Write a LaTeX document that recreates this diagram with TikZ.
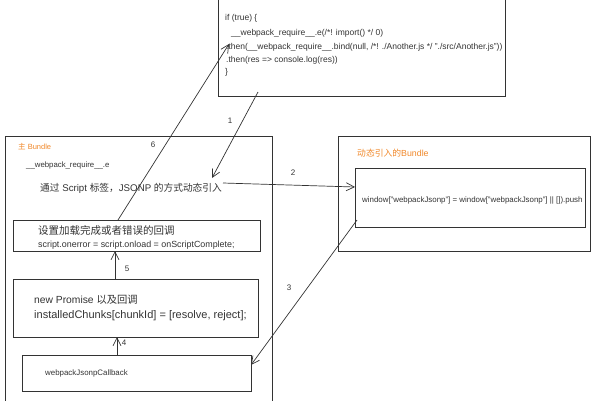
\documentclass[tikz,border=0pt]{standalone}
\usepackage{fontspec}
\setmainfont{Liberation Sans}
\newfontfamily\cjk{Noto Sans CJK SC}
\usetikzlibrary{arrows.meta}
\definecolor{ink}{HTML}{333333}
\definecolor{orangetxt}{HTML}{F0882A}
\tikzset{
  box/.style={draw=ink, line width=0.9pt, anchor=north west, inner sep=0pt},
  lbl/.style={anchor=west, inner sep=0pt, text=ink},
  num/.style={inner sep=0pt, text=ink, font=\fontsize{8}{9}\selectfont},
  arr/.style={draw=ink, line width=0.7pt, -{Straight Barb[length=8pt,width=8pt,line width=0.7pt]}},
}
\begin{document}
\begin{tikzpicture}[x=1pt,y=-1pt]
\useasboundingbox (0,0) rectangle (600,400);
% boxes
\node[box, minimum width=287pt, minimum height=100pt] (top) at (218,-4) {};
\node[box, minimum width=267pt, minimum height=270pt] (main) at (5,136) {};
\node[box, minimum width=247pt, minimum height=31pt] (b1) at (13,220) {};
\node[box, minimum width=245pt, minimum height=58pt] (b2) at (13,279) {};
\node[box, minimum width=229pt, minimum height=36pt] (b3) at (22,355) {};
\node[box, minimum width=252pt, minimum height=115pt] (rbox) at (338,136) {};
\node[box, minimum width=230pt, minimum height=59pt] (rin) at (355,168) {};
% top code
\node[lbl, font=\fontsize{8.5}{9}\selectfont] (c1) at (225,18) {if (true) \{};
\node[lbl, font=\fontsize{8.5}{9}\selectfont] (c2) at (231,33) {\_\_webpack\_require\_\_.e(/*! import() */ 0)};
\node[lbl, font=\fontsize{8.5}{9}\selectfont] (c3) at (226,47) {.then(\_\_webpack\_require\_\_.bind(null, /*! ./Another.js */ "./src/Another.js"))};
\node[lbl, font=\fontsize{8.5}{9}\selectfont] (c4) at (226,60) {.then(res => console.log(res))};
\node[lbl, font=\fontsize{8.5}{9}\selectfont] (c5) at (225,72) {\}};
% main bundle texts
\node[lbl, text=orangetxt, font=\fontsize{7.5}{9}\selectfont] (mt) at (18,147) {{\cjk 主} Bundle};
\node[lbl, font=\fontsize{7.8}{9}\selectfont] (wre) at (26,165) {\_\_webpack\_require\_\_.e};
\node[lbl, font=\fontsize{9.7}{10}\selectfont] (t3) at (40,188) {{\cjk 通过} Script {\cjk 标签，}JSONP {\cjk 的方式动态引入}};
\node[lbl, font=\fontsize{10.5}{11}\selectfont] (b1a) at (38,230) {\cjk 设置加载完成或者错误的回调};
\node[lbl, font=\fontsize{8.9}{9}\selectfont] (b1b) at (38,245) {script.onerror = script.onload = onScriptComplete;};
\node[lbl, font=\fontsize{10.3}{11}\selectfont] (b2a) at (34,300) {new Promise {\cjk 以及回调}};
\node[lbl, font=\fontsize{11}{12}\selectfont] (b2b) at (34,316) {installedChunks[chunkId] = [resolve, reject];};
\node[lbl, font=\fontsize{7.9}{9}\selectfont] (b3a) at (45,373) {webpackJsonpCallback};
% right bundle texts
\node[lbl, text=orangetxt, font=\fontsize{8.8}{9}\selectfont] (rt) at (357,153) {{\cjk 动态引入的}Bundle};
\node[lbl, font=\fontsize{7.9}{8}\selectfont] (rc) at (362,200) {window["webpackJsonp"] = window["webpackJsonp"] || []).push};
% numbers
\node[num] (n1) at (230,121) {1};
\node[num] (n2) at (293,173) {2};
\node[num] (n3) at (289,288) {3};
\node[num] (n4) at (124,343) {4};
\node[num] (n5) at (127,269) {5};
\node[num] (n6) at (153,145) {6};
% connector end points
\coordinate (a1s) at (258,92);
\coordinate (a1e) at (212,178);
\coordinate (a2s) at (223,183);
\coordinate (a2e) at (355,187);
\coordinate (a3s) at (357,220);
\coordinate (a3e) at (251,365);
\coordinate (a4s) at (117,355);
\coordinate (a4e) at (117,337);
\coordinate (a5s) at (115,279);
\coordinate (a5e) at (115,251);
\coordinate (a6s) at (118,220);
\coordinate (a6e) at (229,44);
\draw[arr] (a1s) -- (a1e);
\draw[arr] (a2s) -- (a2e);
\draw[arr] (a3s) -- (a3e);
\draw[arr] (a4s) -- (a4e);
\draw[arr] (a5s) -- (a5e);
\draw[arr] (a6s) -- (a6e);
\end{tikzpicture}
\end{document}
